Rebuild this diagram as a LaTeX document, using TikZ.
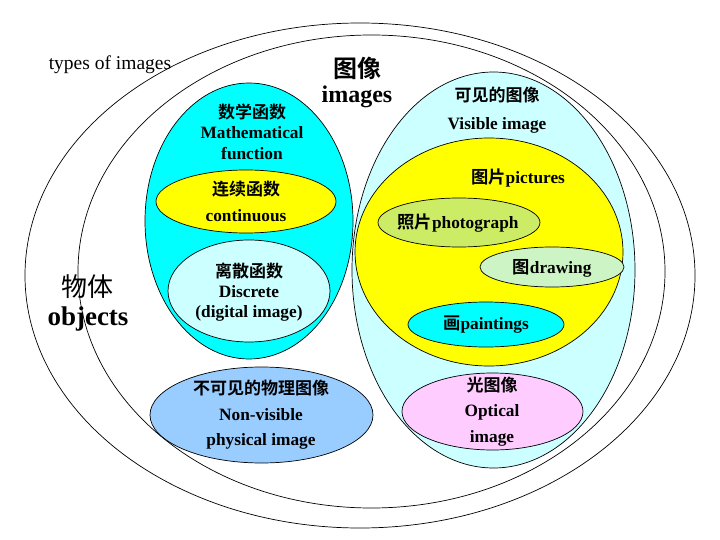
\documentclass[tikz,border=0pt]{standalone}
\usepackage{fontspec}
\setmainfont{Liberation Serif}
\newfontfamily\cjk{Noto Sans CJK SC}[BoldFont={Noto Sans CJK SC Bold}]
\definecolor{cyanA}{RGB}{0,255,255}
\definecolor{lcyan}{RGB}{204,255,255}
\definecolor{yel}{RGB}{255,255,0}
\definecolor{nvblue}{RGB}{153,204,255}
\definecolor{photo}{RGB}{204,236,102}
\definecolor{drawc}{RGB}{204,244,196}
\definecolor{pinkc}{RGB}{255,204,255}
\tikzset{
  blob/.style={draw=black, line width=0.7pt},
  ring/.style={draw=black, line width=0.7pt},
  lbl/.style={inner sep=0pt, align=center, font=\fontsize{17.3}{24}\selectfont\bfseries},
  zh/.style={inner sep=0pt, font=\fontsize{17}{20}\selectfont\cjk\bfseries},
}
\begin{document}
\begin{tikzpicture}[x=1pt,y=-1pt]
\useasboundingbox (0,0) rectangle (720,540);
\fill[white] (0,0) rectangle (720,540);
% outer rings
\path[ring] (360,275.5) ellipse (335 and 252.5);
\path[ring] (371.5,271.5) ellipse (293.5 and 236.5);
% left side
\path[blob, fill=cyanA] (249,221) ellipse (104 and 138);
\path[blob, fill=yel] (246,201.5) ellipse (90 and 31.5);
\path[blob, fill=lcyan] (249,291) ellipse (81 and 51);
\path[blob, fill=nvblue] (261.5,415) ellipse (111.5 and 48);
% right side
\path[blob, fill=lcyan] (493.5,270) ellipse (141.5 and 198);
\path[blob, fill=yel] (489,252) ellipse (134 and 114);
\path[blob, fill=photo] (459,222.5) ellipse (81 and 24.5);
\path[blob, fill=drawc] (552,267) ellipse (72 and 20);
\path[blob, fill=cyanA] (486,324.5) ellipse (78 and 22.5);
\path[blob, fill=pinkc] (492.5,411.5) ellipse (90.5 and 38.5);
% texts
\node[inner sep=0pt, font=\fontsize{19.5}{22}\selectfont] (types) at (110,65) {types of images};
\node[inner sep=0pt, font=\fontsize{24}{26}\selectfont\cjk\bfseries] (tx) at (357,68) {图像};
\node[inner sep=0pt, font=\fontsize{24}{26}\selectfont\bfseries] (imgs) at (357,97) {images};
\node[inner sep=0pt, font=\fontsize{26}{28}\selectfont\cjk] (wt) at (87,287) {物体};
\node[inner sep=0pt, font=\fontsize{27}{28}\selectfont\bfseries] (obj) at (88,319) {objects};

\node[zh] (sx) at (252,112) {数学函数};
\node[lbl] (math) at (252,133) {Mathematical};
\node[lbl] (func) at (252,154) {function};

\node[zh] (lx) at (246,189) {连续函数};
\node[lbl] (cont) at (246,216) {continuous};

\node[zh] (ls) at (249,271) {离散函数};
\node[lbl] (disc) at (249,292) {Discrete};
\node[lbl] (digi) at (249,313) {(digital image)};

\node[zh] (bk) at (261,388) {不可见的物理图像};
\node[lbl] (nonv) at (261,415) {Non-visible};
\node[lbl] (phys) at (261,441) {physical image};

\node[zh] (kj) at (497,95) {可见的图像};
\node[lbl] (vis) at (497,125) {Visible image};

\node[lbl] (pict) at (518,178) {{\cjk 图片}pictures};
\node[lbl] (phot) at (458,223) {{\cjk 照片}photograph};
\node[lbl] (draw) at (552,268) {{\cjk 图}drawing};
\node[lbl] (pain) at (486,325) {{\cjk 画}paintings};

\node[zh] (gt) at (492,385) {光图像};
\node[lbl] (opt) at (492,412) {Optical};
\node[lbl] (oimg) at (492,438) {image};
\end{tikzpicture}
\end{document}
